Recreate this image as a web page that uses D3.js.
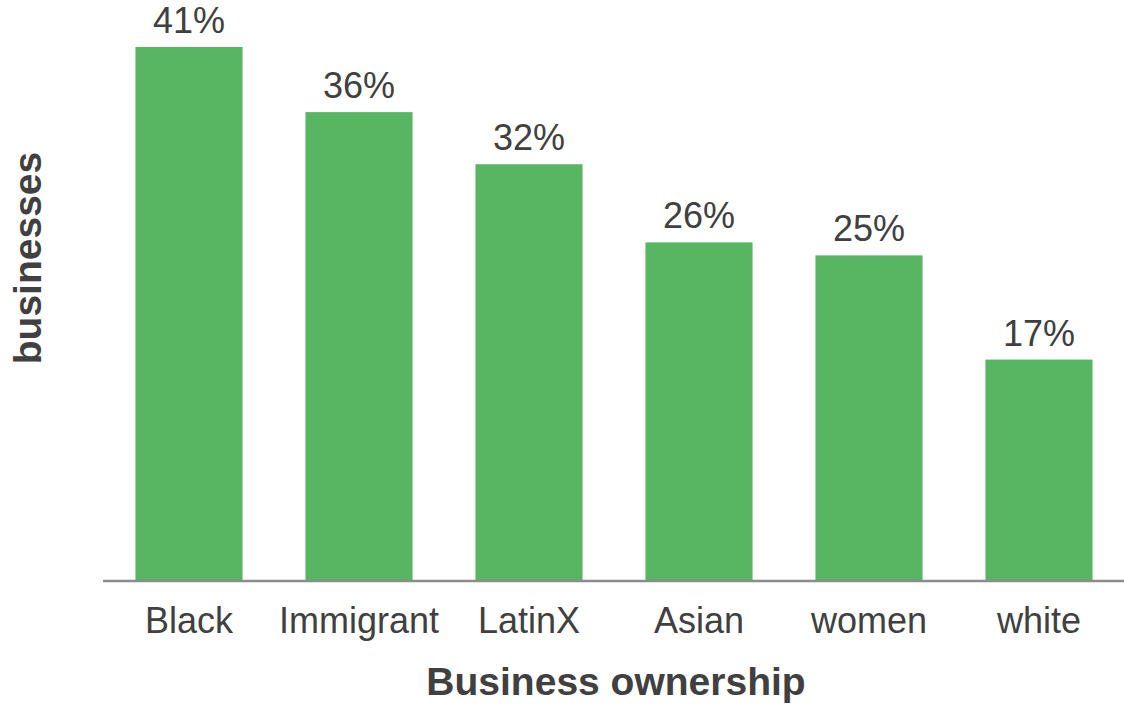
<!DOCTYPE html>
<html>
<head>
<meta charset="utf-8">
<script src="https://cdn.jsdelivr.net/npm/d3@7"></script>
<style>
  body { margin: 0; background: #fff; }
  svg { display: block; font-family: "Liberation Sans", Arial, sans-serif; }
</style>
</head>
<body>
<div id="chart"></div>
<script>
'use strict';

// data
const categories = ['Black', 'Immigrant', 'LatinX', 'Asian', 'women', 'white'];
const values = [41, 36, 32, 26, 25, 17];
const x_title = 'Business ownership';
const y_title_lines = ['Struggling', 'businesses'];

const width = 1124;
const height = 704;
const base_y = 581;
const bar_color = '#58b663';
const text_color = '#404040';

const svg_el = d3.select('#chart')
  .append('svg')
  .attr('width', width)
  .attr('height', height);

// scales
const xScale = d3.scaleBand()
  .domain(categories)
  .range([104, 1124])
  .paddingInner(0.37)
  .paddingOuter(0.185);

const yScale = d3.scaleLinear()
  .domain([0, 41])
  .range([base_y, 47]);

// bars
svg_el.append('g')
  .selectAll('rect')
  .data(values)
  .join('rect')
  .attr('x', (d, i) => xScale(categories[i]))
  .attr('y', d => yScale(d))
  .attr('width', xScale.bandwidth())
  .attr('height', d => base_y - yScale(d))
  .attr('fill', bar_color);

// value labels
svg_el.append('g')
  .selectAll('text')
  .data(values)
  .join('text')
  .attr('x', (d, i) => xScale(categories[i]) + xScale.bandwidth() / 2)
  .attr('y', d => yScale(d) - 14)
  .attr('text-anchor', 'middle')
  .style('font-size', '36px')
  .style('fill', text_color)
  .text(d => d + '%');

// x axis
const xAxis = d3.axisBottom(xScale).tickSize(0).tickPadding(26);
const xAxisGroup = svg_el.append('g')
  .attr('transform', `translate(0, ${base_y})`)
  .call(xAxis);
xAxisGroup.select('.domain')
  .attr('d', `M103,0H${width}`)
  .attr('stroke', '#8c8c8c')
  .attr('stroke-width', 2.5);
xAxisGroup.selectAll('.tick text')
  .style('font-size', '36px')
  .style('font-family', '"Liberation Sans", Arial, sans-serif')
  .style('fill', text_color);

// x title
svg_el.append('text')
  .attr('x', 616)
  .attr('y', 695)
  .attr('text-anchor', 'middle')
  .style('font-size', '39px')
  .style('font-weight', 'bold')
  .style('fill', text_color)
  .text(x_title);

// y title (first line mostly off the left edge, as in the reference)
const y_title = svg_el.append('text')
  .attr('transform', 'translate(41, 258) rotate(-90)')
  .attr('text-anchor', 'middle')
  .style('font-size', '39px')
  .style('font-weight', 'bold')
  .style('fill', text_color);
y_title.selectAll('tspan')
  .data(y_title_lines)
  .join('tspan')
  .attr('x', 0)
  .attr('y', (d, i) => (i - 1) * 51)
  .text(d => d);
</script>
</body>
</html>
